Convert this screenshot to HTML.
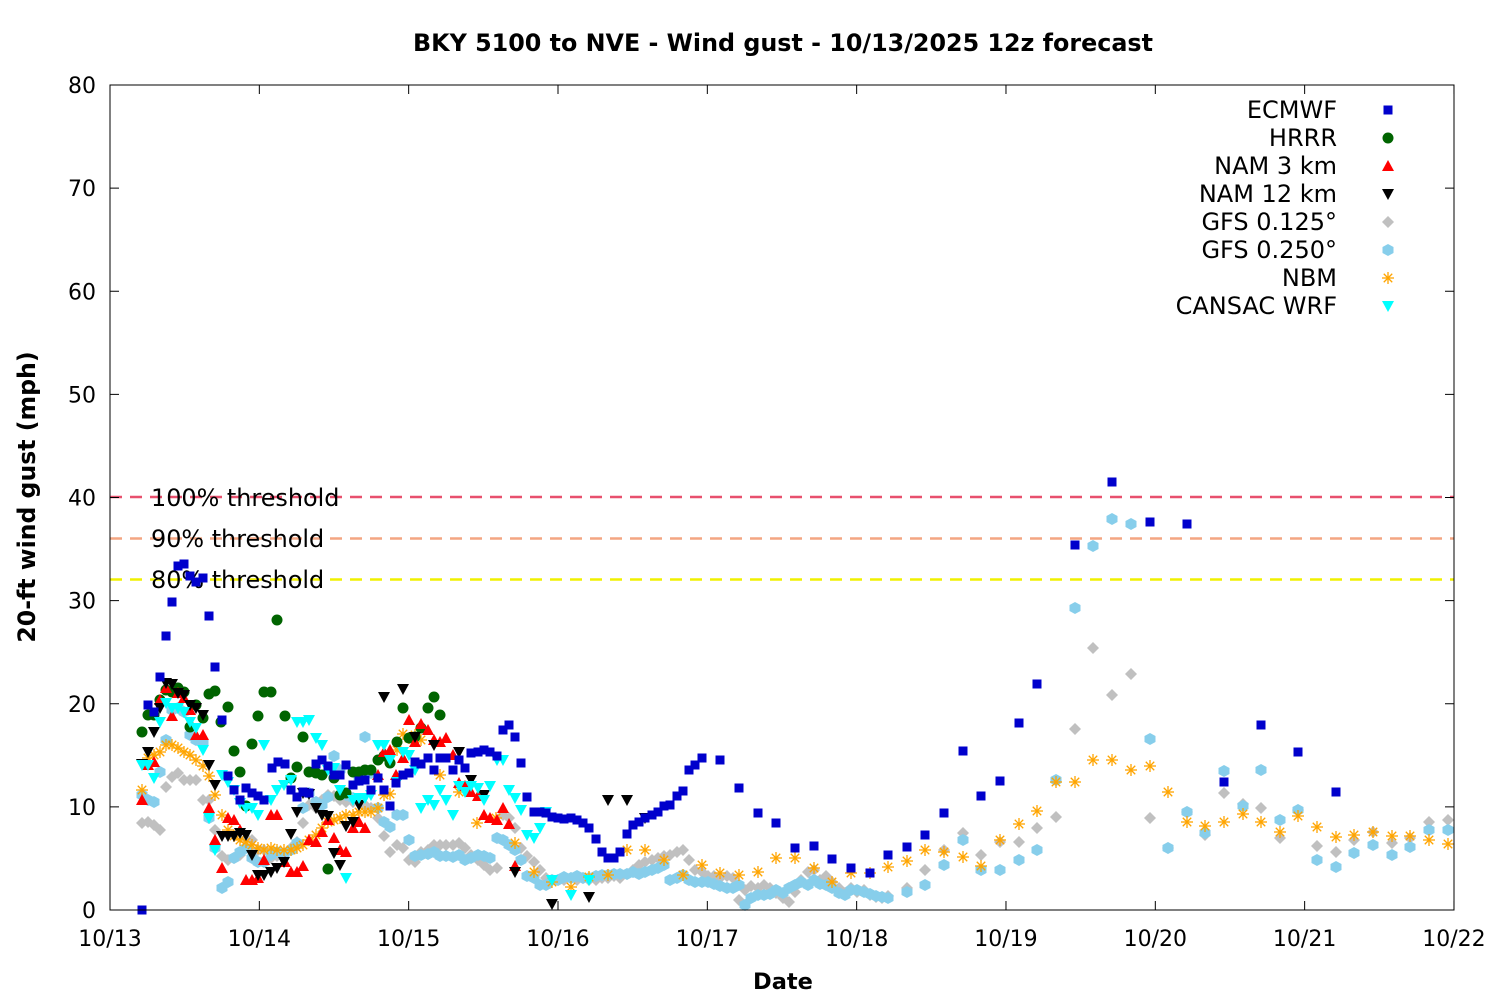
<!DOCTYPE html>
<html><head><meta charset="utf-8"><style>
html,body{margin:0;padding:0;background:#fff}
svg{display:block}
text{font-family:"DejaVu Sans","Liberation Sans",sans-serif;fill:#000}
</style></head><body>
<svg id="s" width="1500" height="1000" xmlns="http://www.w3.org/2000/svg">
<rect width="1500" height="1000" fill="#fff"/>
<text x="783" y="51" text-anchor="middle" font-size="23.8" font-weight="bold">BKY 5100 to NVE - Wind gust - 10/13/2025 12z forecast</text>
<text x="783" y="989" text-anchor="middle" font-size="22.5" font-weight="bold">Date</text>
<text transform="translate(35,497) rotate(-90)" text-anchor="middle" font-size="23.6" font-weight="bold">20-ft wind gust (mph)</text>
<g id="thr">
<line x1="110" y1="497" x2="1454" y2="497" stroke="#e8506e" stroke-width="2.5" stroke-dasharray="12,8"/>
<line x1="110" y1="538.5" x2="1454" y2="538.5" stroke="#f4a582" stroke-width="2.5" stroke-dasharray="12,8"/>
<line x1="110" y1="579.5" x2="1454" y2="579.5" stroke="#f0f000" stroke-width="2.5" stroke-dasharray="12,8"/>
<text x="151" y="506" font-size="23.9">100% threshold</text>
<text x="151" y="547" font-size="23.9">90% threshold</text>
<text x="151" y="588" font-size="23.9">80% threshold</text>
</g>
<g id="ax"></g>
<g id="pts"></g>
<rect x="110" y="85" width="1344" height="825" fill="none" stroke="#000" stroke-width="1"/>
</svg>
<script>
var NS="http://www.w3.org/2000/svg",svg=document.getElementById("s"),ax=document.getElementById("ax"),P=document.getElementById("pts");
function el(p,t,a,txt){var e=document.createElementNS(NS,t);for(var k in a)e.setAttribute(k,a[k]);if(txt!=null)e.textContent=txt;p.appendChild(e);return e;}
for(var v=0;v<=80;v+=10){var y=910-v*10.3125;
el(ax,"line",{x1:110,y1:y,x2:119,y2:y,stroke:"#000"});el(ax,"line",{x1:1445,y1:y,x2:1454,y2:y,stroke:"#000"});
el(ax,"text",{x:96,y:y+8,"text-anchor":"end","font-size":"22"},v);}
var days=["10/13","10/14","10/15","10/16","10/17","10/18","10/19","10/20","10/21","10/22"];
for(var i=0;i<10;i++){var x=110+i*149.33;
el(ax,"line",{x1:x,y1:910,x2:x,y2:901,stroke:"#000"});el(ax,"line",{x1:x,y1:85,x2:x,y2:94,stroke:"#000"});
el(ax,"text",{x:x,y:946,"text-anchor":"middle","font-size":"22"},days[i]);}
function mk(x,y,t,c){
if(t=="sq")el(P,"rect",{x:x-4.5,y:y-4.5,width:9,height:9,fill:c});
else if(t=="ci")el(P,"circle",{cx:x,cy:y,r:5.5,fill:c});
else if(t=="up")el(P,"polygon",{points:(x-6)+","+(y+5)+" "+(x+6)+","+(y+5)+" "+x+","+(y-6),fill:c});
else if(t=="dn")el(P,"polygon",{points:(x-6)+","+(y-5)+" "+(x+6)+","+(y-5)+" "+x+","+(y+6),fill:c});
else if(t=="di")el(P,"polygon",{points:x+","+(y-6)+" "+(x+6)+","+y+" "+x+","+(y+6)+" "+(x-6)+","+y,fill:c});
else if(t=="hx")el(P,"polygon",{points:(x-5.5)+","+(y-3)+" "+x+","+(y-6)+" "+(x+5.5)+","+(y-3)+" "+(x+5.5)+","+(y+3)+" "+x+","+(y+6)+" "+(x-5.5)+","+(y+3),fill:c});
else if(t=="as"){var g=el(P,"g",{stroke:c,"stroke-width":1.3});for(var a=0;a<4;a++){var an=a*Math.PI/4;el(g,"line",{x1:x-6*Math.cos(an),y1:y-6*Math.sin(an),x2:x+6*Math.cos(an),y2:y+6*Math.sin(an)});}}
}
function S(str,t,c){var a=str.split(/\)\s*,?\s*\(/);a.forEach(function(s){var n=s.replace(/[()]/g,"").split(",");mk(+n[0],+n[1],t,c);});}
S("(142,823),(148,822),(154,825),(160,830),(166,787),(172,777),(178,773),(184,780),(190,780),(196,780),(203,800),(209,800),(215,830),(222,856),(228,860),(234,858),(240,855),(246,838),(252,840),(258,850),(264,850),(271,858),(277,856),(284,853),(291,848),(297,842),(303,823),(309,805),(316,808),(322,800),(328,795),(334,796),(340,800),(346,802),(353,802),(359,800),(365,805),(371,808),(378,818),(384,836),(390,852),(397,845),(403,848),(409,860),(415,862),(421,852),(428,850),(434,845),(440,845),(446,845),(453,845),(459,843),(465,848),(471,855),(478,860),(484,865),(490,870),(497,868),(503,815),(509,818),(515,828),(521,848),(527,856),(534,862),(540,870),(546,878),(552,880),(558,880),(564,880),(571,878),(577,880),(583,878),(589,880),(596,880),(602,878),(608,878),(614,876),(620,878),(627,874),(633,870),(639,865),(645,862),(652,860),(658,858),(664,856),(670,855),(677,852),(683,850),(689,860),(695,870),(702,872),(708,876),(714,876),(720,878),(727,876),(733,878),(739,900),(745,890),(751,886),(758,888),(764,885),(770,888),(776,893),(783,898),(789,902),(795,892),(801,880),(808,872),(814,870),(820,880),(826,876),(832,882),(839,888),(845,893),(851,888),(857,892),(864,890),(870,895),(876,897),(882,898),(888,896),(907,888),(925,870),(944,850),(963,833),(981,855),(1000,842),(1019,842),(1037,828),(1056,817),(1075,729),(1093,648),(1112,695),(1131,674),(1150,818),(1168,848),(1187,812),(1205,835),(1224,793),(1243,804),(1261,808),(1280,838),(1298,810),(1317,846),(1336,852),(1354,840),(1373,832),(1392,843),(1410,838),(1429,822),(1448,820)","di","#c0c0c0");
S("(142,795),(148,800),(154,802),(160,772),(166,740),(172,710),(178,708),(184,712),(190,735),(196,740),(203,742),(209,818),(215,848),(222,888),(228,882),(234,858),(240,852),(246,848),(252,858),(258,862),(264,862),(271,855),(277,852),(284,855),(291,850),(297,843),(303,808),(309,793),(316,802),(322,805),(328,797),(334,756),(340,770),(346,795),(353,798),(359,780),(365,737),(371,773),(378,808),(384,822),(390,827),(397,815),(403,815),(409,840),(415,856),(421,855),(428,854),(434,852),(440,856),(446,856),(453,857),(459,855),(465,860),(471,858),(478,855),(484,856),(490,858),(497,838),(503,840),(509,845),(515,850),(521,860),(527,876),(534,878),(540,885),(546,885),(552,880),(558,880),(564,877),(571,878),(577,876),(583,878),(589,878),(596,876),(602,875),(608,875),(614,874),(620,874),(627,874),(633,872),(639,874),(645,872),(652,870),(658,868),(664,865),(670,880),(677,878),(683,875),(689,880),(695,882),(702,882),(708,882),(714,884),(720,886),(727,888),(733,888),(739,885),(745,905),(751,898),(758,895),(764,895),(770,894),(776,890),(783,893),(789,888),(795,885),(801,882),(808,885),(814,880),(820,884),(826,885),(832,888),(839,893),(845,895),(851,890),(857,890),(864,892),(870,894),(876,896),(882,897),(888,898),(907,892),(925,885),(944,865),(963,840),(981,870),(1000,870),(1019,860),(1037,850),(1056,780),(1075,608),(1093,546),(1112,519),(1131,524),(1150,739),(1168,848),(1187,812),(1205,833),(1224,771),(1243,806),(1261,770),(1280,820),(1298,810),(1317,860),(1336,867),(1354,853),(1373,845),(1392,855),(1410,847),(1429,830),(1448,830)","hx","#87ceeb");
S("(142,790),(148,758),(154,755),(160,752),(166,745),(172,745),(178,748),(184,752),(190,755),(196,760),(203,766),(209,776),(215,795),(222,815),(228,830),(234,836),(240,840),(246,842),(252,845),(258,848),(264,850),(271,848),(277,850),(284,850),(291,850),(297,848),(303,845),(309,840),(316,835),(322,828),(328,822),(334,820),(340,818),(346,815),(353,815),(359,812),(365,812),(371,812),(378,808),(384,795),(390,794),(397,750),(403,734),(409,738),(415,735),(421,740),(440,775),(459,792),(477,823),(496,818),(515,843),(534,872),(552,882),(571,887),(589,877),(608,875),(627,850),(645,850),(664,860),(683,875),(702,865),(720,873),(739,875),(758,872),(776,858),(795,858),(814,868),(832,882),(851,873),(870,873),(888,867),(907,861),(925,850),(944,852),(963,857),(981,866),(1000,840),(1019,824),(1037,811),(1056,782),(1075,782),(1093,760),(1112,760),(1131,770),(1150,766),(1168,792),(1187,822),(1205,826),(1224,822),(1243,814),(1261,822),(1280,832),(1298,816),(1317,827),(1336,837),(1354,835),(1373,832),(1392,836),(1410,836),(1429,840),(1448,844)","as","#ffa500");
S("(142,732),(148,715),(154,715),(160,700),(166,690),(172,692),(178,688),(184,692),(190,727),(196,705),(203,718),(209,694),(215,691),(221,722),(228,707),(234,751),(240,772),(246,806),(252,744),(258,716),(264,692),(271,692),(277,620),(285,716),(291,778),(297,767),(303,737),(309,772),(316,773),(322,775),(328,869),(334,778),(340,795),(346,793),(353,772),(359,772),(365,770),(371,770),(378,760),(384,756),(390,763),(397,742),(403,708),(409,738),(415,737),(421,728),(428,708),(434,697),(440,715)","ci","#006400");
S("(142,800),(148,765),(154,762),(160,700),(166,688),(172,716),(178,693),(184,698),(190,710),(196,735),(203,735),(209,808),(215,840),(222,868),(228,818),(234,820),(240,830),(246,880),(252,880),(258,878),(264,860),(271,815),(277,815),(285,862),(291,872),(297,872),(303,866),(309,840),(316,842),(322,832),(328,820),(334,838),(340,850),(346,852),(353,828),(359,822),(365,828),(378,775),(384,752),(390,750),(396,775),(403,758),(409,720),(415,742),(421,724),(428,730),(434,740),(440,742),(446,738),(453,755),(459,783),(465,786),(471,792),(478,796),(484,815),(490,818),(497,820),(503,808),(509,824),(515,866)","up","#ff0000");
S("(142,764),(148,752),(154,732),(160,708),(166,683),(172,684),(178,693),(184,695),(190,705),(196,708),(203,715),(209,765),(215,785),(222,836),(228,836),(234,836),(240,833),(246,835),(252,855),(258,875),(264,875),(271,872),(277,868),(284,862),(291,834),(297,812),(303,793),(309,794),(316,808),(322,815),(328,816),(334,853),(340,865),(346,826),(353,822),(359,805),(384,697),(403,689),(415,737),(434,745),(459,752),(471,780),(484,795),(515,872),(552,904),(589,897),(608,800),(627,800),(645,818)","dn","#000000");
S("(142,765),(148,765),(154,778),(160,722),(166,703),(172,708),(178,708),(184,712),(190,722),(196,728),(203,750),(209,818),(215,850),(222,775),(228,782),(234,790),(240,803),(246,808),(252,808),(258,815),(264,745),(271,800),(277,790),(284,785),(291,780),(297,722),(303,722),(309,720),(316,738),(322,745),(328,770),(334,768),(340,790),(346,878),(353,800),(359,798),(365,798),(371,795),(378,745),(384,745),(390,760),(397,782),(403,752),(409,755),(415,770),(421,808),(428,800),(434,805),(440,790),(446,800),(453,815),(459,786),(465,792),(471,786),(478,788),(484,800),(490,786),(497,760),(503,760),(509,790),(515,798),(521,810),(527,835),(534,838),(540,828),(546,812),(552,880),(571,895),(589,880)","dn","#00ffff");
S("(142,910),(148,705),(154,712),(160,677),(166,636),(172,602),(178,566),(184,564),(190,576),(196,582),(203,578),(209,616),(215,667),(222,720),(228,776),(234,790),(240,800),(246,788),(252,793),(258,796),(264,800),(272,768),(278,762),(285,764),(291,790),(297,797),(303,792),(309,793),(316,764),(322,760),(328,766),(334,775),(340,775),(346,765),(353,785),(359,781),(365,780),(371,790),(378,778),(384,790),(390,806),(396,783),(403,775),(409,773),(415,762),(421,764),(428,758),(434,770),(440,758),(446,758),(453,770),(459,760),(465,768),(471,753),(478,752),(484,750),(490,752),(497,756),(503,730),(509,725),(515,737),(521,763),(527,797),(534,812),(540,812),(546,813),(552,817),(558,818),(564,819),(571,818),(577,820),(583,823),(589,828),(596,839),(602,852),(608,858),(614,858),(620,852),(627,834),(633,825),(639,822),(645,818),(652,815),(658,812),(664,806),(670,805),(677,796),(683,791),(689,770),(695,765),(702,758),(720,760),(739,788),(758,813),(776,823),(795,848),(814,846),(832,859),(851,868),(870,873),(888,855),(907,847),(925,835),(944,813),(963,751),(981,796),(1000,781),(1019,723),(1037,684),(1075,545),(1112,482),(1150,522),(1187,524),(1224,782),(1261,725),(1298,752),(1336,792)","sq","#0000cc");
var L=[["ECMWF","sq","#0000cc"],["HRRR","ci","#006400"],["NAM 3 km","up","#ff0000"],["NAM 12 km","dn","#000000"],["GFS 0.125°","di","#c0c0c0"],["GFS 0.250°","hx","#87ceeb"],["NBM","as","#ffa500"],["CANSAC WRF","dn","#00ffff"]];
L.forEach(function(r,i){var y=110+i*28;el(P,"text",{x:1337,y:y+8,"text-anchor":"end","font-size":"24"},r[0]);mk(1388,y,r[1],r[2]);});
</script>
</body></html>
